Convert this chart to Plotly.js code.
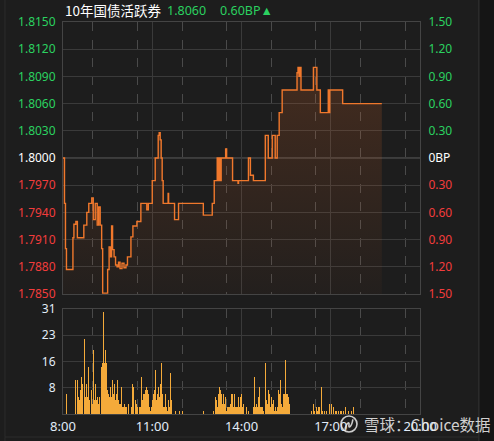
<!DOCTYPE html>
<html>
<head>
<meta charset="utf-8">
<script src="https://cdn.plot.ly/plotly-3.0.1.min.js"></script>
<style>
html,body{margin:0;padding:0;background:#1d1d1d;}
#chart{width:494px;height:441px;}
</style>
</head>
<body>
<div id="chart"></div>
<script>
// ---------- data ----------
const DAY = "2024-01-02 ";
const TITLE_NAME = "10年国债活跃券";
const LAST_PRICE = "1.8060";
const CHANGE_TEXT = "0.60BP▲";
const BASE_PRICE = 1.8000;

const PRICE_TIMES = ["08:00","08:03","08:05","08:07","08:20","08:22","08:26","08:29","08:42","08:48","08:52","08:58",
  "09:01","09:05","09:09","09:12","09:15","09:18","09:20","09:30","09:33","09:36","09:38","09:40","09:43","09:46",
  "09:49","09:52","09:55","09:59","10:03","10:07","10:10","10:17","10:21","10:29","10:37","10:49","10:52","11:00",
  "11:06","11:12","11:14","11:16","11:18","11:20","11:22","11:32","11:33","11:45","11:53","12:43","13:01","13:05",
  "13:11","13:13","13:15","13:17","13:19","13:28","13:30","13:42","13:53","13:54","14:14","14:18","14:24","14:48",
  "14:54","15:02","15:08","15:12","15:16","15:22","15:52","15:54","15:56","15:58","16:00","16:25","16:32","16:39",
  "16:55","16:57","16:58","17:24","18:43"];
const PRICES = [1.8000,1.7950,1.7900,1.7877,1.7912,1.7927,1.7930,1.7912,1.7926,1.7940,1.7950,1.7956,
  1.7932,1.7950,1.7926,1.7946,1.7926,1.7900,1.7851,1.7877,1.7902,1.7891,1.7925,1.7899,1.7891,1.7882,
  1.7880,1.7885,1.7878,1.7884,1.7879,1.7882,1.7891,1.7913,1.7925,1.7930,1.7950,1.7943,1.7950,1.7975,
  1.8000,1.8025,1.8028,1.8020,1.8000,1.7975,1.7950,1.7961,1.7950,1.7932,1.7950,1.7937,1.7950,1.7975,
  1.8000,1.7975,1.8000,1.7975,1.8000,1.8010,1.8000,1.7975,1.7972,1.7975,1.8000,1.7981,1.7975,1.8025,
  1.8000,1.8025,1.8000,1.8025,1.8050,1.8075,1.8094,1.8100,1.8090,1.8100,1.8075,1.8100,1.8075,1.8050,
  1.8075,1.8050,1.8075,1.8060,1.8060];

const VOL_TIMES = ["08:04","08:07","08:10","08:12","08:14","08:16","08:18","08:20","08:22","08:24","08:26","08:29",
  "08:31","08:33","08:36","08:38","08:40","08:43","08:45","08:48","08:50","08:52","08:54","08:57","08:59","09:01",
  "09:03","09:06","09:08","09:10","09:12","09:14","09:17","09:19","09:21","09:23","09:25","09:27","09:29","09:31",
  "09:33","09:36","09:38","09:40","09:42","09:44","09:46","09:48","09:50","09:52","09:54","09:56","09:58","10:00",
  "10:02","10:04","10:06","10:08","10:12","10:15","10:18","10:20","10:22","10:25","10:27","10:29","10:31","10:34",
  "10:37","10:39","10:41","10:43","10:45","10:47","10:49","10:51","10:53","10:55","10:57","10:59","11:01","11:03",
  "11:05","11:07","11:09","11:11","11:13","11:15","11:17","11:19","11:21","11:23","11:25","11:27","11:29","11:31",
  "11:33","11:35","11:37","11:39","11:47","11:55","12:01","12:44","13:03","13:07","13:09","13:11","13:13","13:15",
  "13:17","13:19","13:21","13:23","13:25","13:27","13:29","13:31","13:33","13:36","13:38","13:40","13:42","13:44",
  "13:46","13:48","13:50","13:52","13:54","13:56","13:58","14:00","14:02","14:04","14:07","14:10","14:14","14:17",
  "14:19","14:24","14:26","14:29","14:31","14:33","14:35","14:37","14:39","14:41","14:43","14:45","14:48","14:50",
  "14:52","14:54","14:56","14:58","15:00","15:02","15:04","15:06","15:08","15:10","15:12","15:14","15:16","15:18",
  "15:20","15:22","15:24","15:26","15:28","15:30","15:32","15:34","15:36","15:38","15:40","15:44","15:48","15:50",
  "15:52","15:54","15:56","15:58","16:00","16:02","16:04","16:06","16:10","16:12","16:14","16:18","16:21","16:25",
  "16:27","16:32","16:34","16:36","16:38","16:41","16:44","16:48","16:52","16:58","17:02","17:05","17:09","17:12",
  "17:15","17:19","17:22","17:25","17:29","17:35","17:39","17:42","17:46","17:49","18:09"];
const VOLUMES = [3,6,6,7,11,6,4,7,9,6,10,10,
  5,4,7,11,9,22,5,9,5,14,4,7,3,19,
  4,9,4,5,3,5,14,15,30,15,19,15,7,6,
  5,8,5,10,6,9,4,6,10,4,3,3,8,2,
  2,3,2,2,3,2,2,9,8,2,4,3,2,2,
  2,11,4,6,6,7,8,7,6,2,1,2,4,6,
  7,13,4,6,8,5,9,15,6,2,2,6,2,1,
  4,2,12,4,1,1,1,1,1,5,4,2,6,8,
  7,6,3,6,3,5,1,2,2,2,3,6,6,2,
  6,2,2,2,5,2,5,6,2,3,1,2,1,2,
  1,2,11,2,3,2,5,8,2,2,2,1,15,4,
  3,7,6,2,5,3,4,1,2,1,2,7,6,10,
  3,2,6,6,16,6,6,5,3,2,1,1,2,5,
  2,4,10,2,4,1,1,2,3,1,1,2,1,3,
  1,2,1,2,2,8,1,1,1,3,3,2,1,1,
  1,1,1,1,2,1,1,1,2,1,1];

const PRICE_TICKS = [1.7850,1.7880,1.7910,1.7940,1.7970,1.8000,1.8030,1.8060,1.8090,1.8120,1.8150];
const BP_TICK_LABELS = ["1.50","1.20","0.90","0.60","0.30","0BP","0.30","0.60","0.90","1.20","1.50"];
const VOL_TICKS = [7.75,15.5,23.25,31];
const VOL_TICK_LABELS = ["8","16","23","31"];
const X_START = "08:00", X_END = "20:00";

// ---------- styling ----------
const GREEN = "#2bd160", RED = "#f23c3c", WHITE = "#ffffff";
const LINE = "#f0782c", BAR = "#f4aa3a";
const GRID = "#3a3a3a", BORDER = "#444444";
const AXIS_TXT = "#e2ecf8";
const FONT = "Noto Sans, Liberation Sans, sans-serif";
const CJK = "Noto Sans CJK SC, Noto Sans, sans-serif";

function col(v){ return Math.abs(v-BASE_PRICE) < 1e-9 ? WHITE : (v > BASE_PRICE ? GREEN : RED); }
function span(t, c){ return '<span style="color:' + c + '">' + t + '</span>'; }

const px = PRICE_TIMES.map(t => DAY + t);
const vx = VOL_TIMES.map(t => DAY + t);
const leftText = PRICE_TICKS.map(v => span(v.toFixed(4), col(v)));
const rightText = PRICE_TICKS.map((v,i) => span(BP_TICK_LABELS[i], col(v)));
const yRange = [PRICE_TICKS[0], PRICE_TICKS[PRICE_TICKS.length-1]];
const xRange = [DAY + X_START, DAY + X_END];
const H = 3600000;

const traces = [
  {
    x: px, y: PRICES, type: "scatter", mode: "lines",
    line: {color: LINE, width: 1.4, shape: "hv"},
    fill: "tozeroy",
    fillcolor: "rgba(240,110,40,0.10)",
    fillgradient: {type: "vertical", start: yRange[0], stop: 1.811,
      colorscale: [[0, "rgba(240,110,40,0.03)"], [1, "rgba(240,110,40,0.19)"]]},
    xaxis: "x", yaxis: "y", hoverinfo: "skip", showlegend: false
  },
  {
    x: px, y: PRICES, type: "scatter", mode: "none",
    xaxis: "x", yaxis: "y3", hoverinfo: "skip", showlegend: false
  },
  {
    x: vx, y: VOLUMES, type: "bar", width: 1.6*60000,
    marker: {color: BAR, line: {width: 0}},
    xaxis: "x2", yaxis: "y2", hoverinfo: "skip", showlegend: false
  }
];

const xCommon = {
  type: "date", range: xRange, tick0: xRange[0], dtick: 3*H,
  showgrid: true, gridcolor: GRID, gridwidth: 1,
  minor: {dtick: 1.5*H, showgrid: true, gridcolor: "#4a4a4a", griddash: "dash", gridwidth: 1, ticks: ""},
  showline: true, mirror: true, linecolor: BORDER, linewidth: 1,
  zeroline: false, ticks: "", fixedrange: true
};

const layout = {
  width: 494, height: 441,
  margin: {l: 63, r: 74, t: 22, b: 27, pad: 0},
  paper_bgcolor: "#1d1d1d", plot_bgcolor: "#1d1d1d",
  showlegend: false, bargap: 0,
  font: {family: FONT, size: 12, color: AXIS_TXT},
  xaxis: Object.assign({}, xCommon, {anchor: "y", domain: [0,1], showticklabels: false}),
  xaxis2: Object.assign({}, xCommon, {anchor: "y2", domain: [0,1], showticklabels: true,
    tickformat: "%-H:%M", tickfont: {family: FONT, size: 13, color: AXIS_TXT}}),
  yaxis: {
    domain: [0.3061, 1], anchor: "x", range: yRange,
    tickmode: "array", tickvals: PRICE_TICKS, ticktext: leftText,
    tickfont: {family: FONT, size: 12}, ticks: "outside", ticklen: 4, tickcolor: "rgba(0,0,0,0)",
    showgrid: true, gridcolor: GRID, gridwidth: 1,
    showline: true, mirror: true, linecolor: BORDER, zeroline: false, fixedrange: true
  },
  yaxis3: {
    overlaying: "y", side: "right", anchor: "x", range: yRange,
    tickmode: "array", tickvals: PRICE_TICKS, ticktext: rightText,
    tickfont: {family: FONT, size: 12}, ticks: "outside", ticklen: 5, tickcolor: "rgba(0,0,0,0)",
    showgrid: false, showline: false, zeroline: false, fixedrange: true
  },
  yaxis2: {
    domain: [0, 0.2679], anchor: "x2", range: [0, 31],
    tickmode: "array", tickvals: VOL_TICKS, ticktext: VOL_TICK_LABELS,
    tickfont: {family: FONT, size: 12, color: AXIS_TXT}, ticks: "outside", ticklen: 4, tickcolor: "rgba(0,0,0,0)",
    showgrid: true, gridcolor: GRID, gridwidth: 1,
    showline: true, mirror: true, linecolor: BORDER, zeroline: false, fixedrange: true
  },
  shapes: [
    {type: "line", xref: "paper", yref: "y", x0: 0, x1: 1, y0: BASE_PRICE, y1: BASE_PRICE,
      line: {color: "#5e5e5e", width: 1.2}, layer: "below"},
    // window chrome
    {type: "rect", xref: "paper", yref: "paper", x0: 1.166, x1: 1.25, y0: -0.1, y1: 1.1,
      fillcolor: "#151515", line: {width: 0}},
    {type: "line", xref: "paper", yref: "paper", x0: 1.165, x1: 1.165, y0: -0.1, y1: 1.1,
      line: {color: "#333333", width: 1}},
    {type: "line", xref: "paper", yref: "paper", x0: -0.1625, x1: -0.1625, y0: -0.1, y1: 1.1,
      line: {color: "#2c2c2c", width: 1}},
    {type: "line", xref: "paper", yref: "paper", x0: -0.1625, x1: 1.165, y0: -0.0587, y1: -0.0587,
      line: {color: "#2c2c2c", width: 1}},
    // watermark logo
    {type: "circle", xref: "paper", yref: "paper", x0: 0.7787, x1: 0.8235, y0: -0.0459, y1: -0.0051,
      line: {color: "rgba(235,235,235,0.85)", width: 1.6}},
    {type: "path", xref: "paper", yref: "paper",
      path: "M 0.790 -0.038 C 0.795 -0.020, 0.803 -0.020, 0.801 -0.028 C 0.799 -0.036, 0.808 -0.036, 0.812 -0.014",
      line: {color: "rgba(235,235,235,0.85)", width: 1.6}}
  ],
  annotations: [
    {xref: "paper", yref: "paper", x: 0, y: 1.0306, xanchor: "left", yanchor: "middle", showarrow: false,
      text: TITLE_NAME, font: {family: CJK, size: 13.5, color: WHITE}},
    {xref: "paper", yref: "paper", x: 0.2857, y: 1.0306, xanchor: "left", yanchor: "middle", showarrow: false,
      text: LAST_PRICE, font: {family: FONT, size: 12.5, color: GREEN}},
    {xref: "paper", yref: "paper", x: 0.434, y: 1.0306, xanchor: "left", yanchor: "middle", showarrow: false,
      text: CHANGE_TEXT, font: {family: FONT, size: 12.5, color: GREEN}},
    {xref: "paper", yref: "paper", x: 0.8375, y: -0.0255, xanchor: "left", yanchor: "middle", showarrow: false,
      text: "雪球：Choice数据", font: {family: CJK, size: 15.5, color: "rgba(235,235,235,0.88)"}}
  ]
};

Plotly.newPlot("chart", traces, layout, {staticPlot: true, displayModeBar: false});
</script>
</body>
</html>
